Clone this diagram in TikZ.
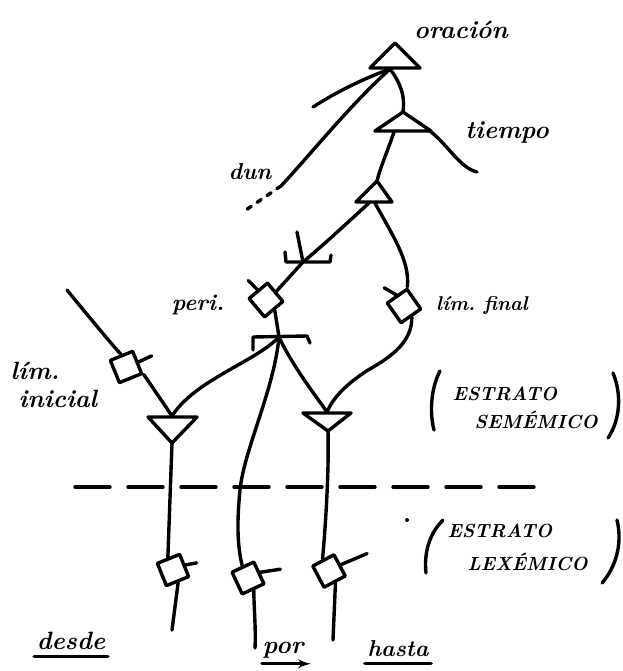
\documentclass[tikz,border=0pt]{standalone}
\usepackage{tikz}
\usetikzlibrary{arrows}
\begin{document}
\begin{tikzpicture}[x=1pt,y=-1pt,line width=3.4pt,line cap=round,line join=round]
\tikzset{orbox/.style = {shape=rectangle,draw,minimum size=24pt,inner sep=0pt}}
\tikzset{hand/.style = {font=\fontsize{23}{28}\selectfont\bfseries\itshape\frenchspacing,inner sep=1pt}}
\tikzset{bighand/.style = {hand,font=\fontsize{25}{28}\selectfont\bfseries\itshape\frenchspacing}}
\tikzset{caps/.style = {font=\fontsize{19}{28}\selectfont\bfseries\itshape,align=left,inner sep=0pt}}
\tikzset{edge/.style = {-,> = latex'}}
\useasboundingbox (0,0) rectangle (622,671);
% triangles
\draw (370,68) -- (395,43) -- (420,68) -- cycle;
\draw (375,131) -- (403,112) -- (431,131) -- cycle;
\draw (356,202) -- (377,181) -- (392,202) -- cycle;
\draw (148,417) -- (197,417) -- (172,443) -- cycle;
\draw (303,413) -- (351,413) -- (328,431) -- cycle;
\coordinate (b1) at (390,69);
\coordinate (a2) at (403,112);
\coordinate (b2) at (394,132);
\coordinate (c2) at (430,131);
\coordinate (a3) at (377,181);
\coordinate (b3l) at (369,203);
\coordinate (b3r) at (375,203);
\coordinate (t4) at (172,416);
\coordinate (a4) at (172,443);
\coordinate (t5) at (327,412);
\coordinate (a5) at (328,431);
% loose ends
\coordinate (stub) at (313,107);
\coordinate (dunA) at (281,186);
\coordinate (dunB) at (243,212);
\coordinate (tstub) at (477,172);
\coordinate (istub) at (67,290);
\coordinate (dend) at (172,630);
\coordinate (rend) at (255,648);
\coordinate (hend) at (333,640);
\coordinate (upm) at (303,262);
\coordinate (dnm) at (279,337);
% boxes
\node[orbox,rotate=40] (P) at (266,300) {};
\node[orbox,rotate=35] (F) at (404,306) {};
\node[orbox,rotate=22] (I) at (126,367) {};
\node[orbox,rotate=22] (D) at (173,570) {};
\node[orbox,rotate=25] (R) at (248,578) {};
\node[orbox,rotate=28] (H) at (329,571) {};
% labels
\node[bighand] (orac) at (461,30) {oración};
\node[bighand] (tiem) at (507,133) {tiempo};
\node[hand] (dun) at (250,172) {dun};
\node[hand] (peri) at (198,305) {peri.};
\node[hand,font=\fontsize{20}{24}\selectfont\bfseries\itshape\frenchspacing] (limf) at (482,305) {lím. final};
\node[bighand,align=left,anchor=west] (limi) at (8,385) {lím.\\\hspace*{8pt}inicial};
\node[caps,anchor=west] (sem) at (451,408) {ESTRATO\\\hspace*{22pt}SEMÉMICO};
\node[caps,anchor=west,font=\fontsize{19}{33}\selectfont\bfseries\itshape] (lex) at (446,547) {ESTRATO\\\hspace*{20pt}LEXÉMICO};
\node[bighand] (desde) at (71,641) {desde};
\node[bighand] (por) at (283,650) {por};
\node[hand] (hasta) at (398,649) {hasta};
% edges
\draw[edge] (b1) .. controls (360,80) and (335,93) .. (stub);
\draw[edge] (b1) .. controls (350,105) and (310,155) .. (dunA);
\draw[edge,dash pattern=on 5pt off 7pt] (dunA) -- (dunB);
\draw[edge] (b1) .. controls (402,85) and (405,98) .. (a2);
\draw[edge] (b2) .. controls (388,150) and (380,168) .. (a3);
\draw[edge] (c2) .. controls (448,145) and (460,168) .. (tstub);
\draw[edge] (b3l) .. controls (345,225) and (320,248) .. (upm) -- (P.east);
\draw[edge] (b3r) .. controls (392,235) and (410,260) .. (F.north east);
\draw[edge] (F.south) .. controls (412,340) and (395,355) .. (368,370)
  .. controls (345,385) and (333,398) .. (t5);
\draw[edge] (P.south) -- (dnm);
\draw[edge] (dnm) .. controls (255,362) and (195,380) .. (t4);
\draw[edge] (dnm) .. controls (274,390) and (244,450) .. (240,490)
  .. controls (237,520) and (237,545) .. (R.north);
\draw[edge] (dnm) .. controls (292,365) and (315,395) .. (t5);
\draw[edge] (istub) .. controls (90,318) and (108,340) .. (I.north);
\draw[edge] (I.south east) -- (t4);
\draw[edge] (a4) -- (D.north);
\draw[edge] (D.south) -- (dend);
\draw[edge] (a5) .. controls (329,470) and (326,520) .. (H.north);
\draw[edge] (H.south) -- (hend);
\draw[edge] (R.south) .. controls (254,610) and (256,630) .. (rend);
% ticks
\draw (P.north) -- ++(-9,-9);
\draw (F.north) -- ++(-12,-7);
\draw (I.east) -- ++(13,-6);
\draw (D.east) -- ++(11,-2);
\draw (R.east) -- ++(20,-3);
\draw (H.east) -- ++(26,-11);
% marks
\draw (285,252) -- (286,262) -- (330,262) -- (331,255);
\draw (297,232) -- (upm);
\draw (253,350) -- (253,337) -- (307,336) -- (310,343);
% strata
\draw[dash pattern=on 35pt off 18pt] (75,487) -- (545,487);
\draw (440,371) .. controls (430,390) and (430,415) .. (434,430);
\draw (613,373) .. controls (622,395) and (620,420) .. (608,438);
\draw (443,520) .. controls (428,535) and (424,555) .. (426,573);
\draw (617,520) .. controls (623,545) and (615,568) .. (602,583);
\fill (407,520) circle (2);
% underlines
\draw ([yshift=-4pt]desde.south west) -- ([yshift=-4pt]desde.south east);
\draw[-latex'] ([yshift=-3pt,xshift=2pt]por.south west) -- ([yshift=-3pt,xshift=5pt]por.south east);
\draw ([yshift=-4pt]hasta.south west) -- ([yshift=-4pt]hasta.south east);
\end{tikzpicture}
\end{document}
